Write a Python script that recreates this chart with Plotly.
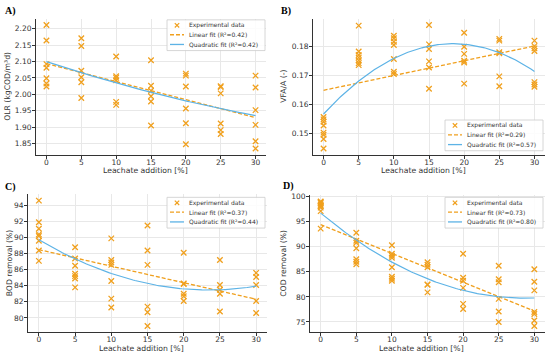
import numpy as np
import plotly.graph_objects as go

leachate_levels = [0, 5, 10, 15, 20, 25, 30]

# Panel A: OLR (kgCOD/m3d)
olr_values = {
    0: [2.211, 2.164, 2.092, 2.081, 2.049, 2.033, 2.024],
    5: [2.171, 2.147, 2.072, 2.052, 2.037, 1.989],
    10: [2.115, 2.055, 2.050, 2.043, 1.977, 1.968],
    15: [2.104, 2.026, 2.011, 1.994, 1.978, 1.905],
    20: [2.063, 2.057, 2.024, 1.957, 1.912, 1.848],
    25: [2.025, 2.022, 2.003, 1.911, 1.891, 1.879],
    30: [2.057, 2.021, 1.952, 1.907, 1.857, 1.835],
}
# Panel B: VFA/A (-)
vfa_values = {
    0: [0.1556, 0.1548, 0.1540, 0.1527, 0.1502, 0.1495, 0.1480, 0.1447],
    5: [0.1873, 0.1783, 0.1771, 0.1762, 0.1752, 0.1743, 0.1736],
    10: [0.1838, 0.1829, 0.1817, 0.1806, 0.1757, 0.1713, 0.1705],
    15: [0.1875, 0.1808, 0.1792, 0.1749, 0.1728, 0.1654],
    20: [0.1848, 0.1800, 0.1775, 0.1751, 0.1745, 0.1672],
    25: [0.1827, 0.1821, 0.1781, 0.1777, 0.1697, 0.1663],
    30: [0.1821, 0.1802, 0.1794, 0.1785, 0.1677, 0.1669, 0.1661],
}
# Panel C: BOD removal (%)
bod_values = {
    0: [94.6, 91.9, 91.1, 90.4, 90.2, 89.6, 88.4, 87.1],
    5: [88.8, 87.4, 86.5, 85.5, 85.2, 84.9, 83.8],
    10: [89.9, 87.2, 86.9, 86.6, 84.6, 82.4, 81.3],
    15: [91.5, 88.4, 86.6, 81.4, 80.7, 79.0],
    20: [88.1, 84.3, 84.2, 83.0, 82.7, 82.1],
    25: [87.2, 84.1, 83.5, 83.0, 80.8],
    30: [85.6, 85.1, 84.1, 82.1, 80.6],
}
# Panel D: COD removal (%)
cod_values = {
    0: [99.0, 98.9, 98.7, 98.4, 98.2, 98.1, 97.8, 97.1, 93.6],
    5: [92.8, 91.2, 90.8, 89.7, 87.5, 87.0, 86.5],
    10: [90.3, 88.6, 88.2, 87.8, 85.9, 84.0, 83.6, 83.2],
    15: [86.9, 86.4, 85.9, 82.5, 82.4, 80.9],
    20: [88.6, 83.8, 83.2, 81.8, 78.6, 77.6],
    25: [86.2, 83.5, 82.9, 79.6, 77.1, 75.0],
    30: [85.5, 83.0, 81.3, 77.0, 76.6, 75.3, 74.2],
}

panel_labels = ["A)", "B)", "C)", "D)"]
y_titles = ["OLR (kgCOD/m³d)", "VFA/A (-)", "BOD removal (%)", "COD removal (%)"]
x_title = "Leachate addition [%]"
legend_data = "Experimental data"
r2_linear = ["0.42", "0.29", "0.37", "0.73"]
r2_quad = ["0.42", "0.57", "0.44", "0.80"]
y_ticks = [
    [1.85, 1.90, 1.95, 2.00, 2.05, 2.10, 2.15, 2.20],
    [0.15, 0.16, 0.17, 0.18],
    [80, 82, 84, 86, 88, 90, 92, 94],
    [75, 80, 85, 90, 95, 100],
]
y_formats = [".2f", ".2f", "d", "d"]
datasets = [olr_values, vfa_values, bod_values, cod_values]

ORANGE = "#F0A01E"
BLUE = "#5DB3E6"
TXT = "#333333"
W, H = 550, 354

# layout (pixels)
boxes = [(36, 266, 16, 153), (313, 545, 16, 153), (28, 267, 193, 332), (310, 545, 194, 332)]
legend_boxes = [(167, 17), (445, 118), (167, 196), (445, 196)]  # left, top
LEG_W, LEG_H = 98, 31
label_pos = [(3, 8), (279, 8), (3, 186), (281, 185)]
ytitle_x = [8, 284, 9, 284]
xtitle_y = [168.5, 168.5, 348, 348]

fig = go.Figure()
tick_font = dict(family="DejaVu Sans", size=7.5, color=TXT)
title_font = dict(family="DejaVu Sans", size=7.7, color=TXT)
legend_font = dict(family="DejaVu Sans", size=6, color=TXT)


def px(x):
    return x / W


def py(y):
    return 1 - y / H


shapes = []
for i, data in enumerate(datasets):
    ax = "" if i == 0 else str(i + 1)
    xs, ys = [], []
    for lvl in leachate_levels:
        for v in data[lvl]:
            xs.append(lvl)
            ys.append(v)
    xs = np.array(xs, dtype=float)
    ys = np.array(ys, dtype=float)
    lin = np.polyfit(xs, ys, 1)
    quad = np.polyfit(xs, ys, 2)
    xf = np.linspace(0, 30, 121)

    fig.add_trace(go.Scatter(
        x=xs, y=ys, mode="markers", name=legend_data,
        marker=dict(symbol="x-thin", size=5.5, color=ORANGE, line=dict(width=1.3, color=ORANGE)),
        xaxis="x" + ax, yaxis="y" + ax, showlegend=False))
    fig.add_trace(go.Scatter(
        x=xf, y=np.polyval(lin, xf), mode="lines", name=f"Linear fit (R²={r2_linear[i]})",
        line=dict(color=ORANGE, width=1.3, dash="4px,2px"),
        xaxis="x" + ax, yaxis="y" + ax, showlegend=False))
    fig.add_trace(go.Scatter(
        x=xf, y=np.polyval(quad, xf), mode="lines", name=f"Quadratic fit (R²={r2_quad[i]})",
        line=dict(color=BLUE, width=1.2),
        xaxis="x" + ax, yaxis="y" + ax, showlegend=False))

    ymin, ymax = ys.min(), ys.max()
    pad = (ymax - ymin) * 0.05
    l, r, t, b = boxes[i]
    fig.update_layout(**{
        "xaxis" + ax: dict(
            domain=[px(l), px(r)], anchor="y" + ax, range=[-1.5, 31.5],
            tickvals=leachate_levels, ticks="outside", ticklen=3, tickcolor="#333",
            tickfont=tick_font, ticklabelstandoff=-3, showline=True, linecolor="#333",
            linewidth=1, showgrid=True, gridcolor="#E8E8E8", gridwidth=0.8, zeroline=False),
        "yaxis" + ax: dict(
            domain=[py(b), py(t)], anchor="x" + ax, range=[ymin - pad, ymax + pad],
            tickvals=y_ticks[i], tickformat=y_formats[i], ticks="outside", ticklen=3,
            tickcolor="#333", tickfont=tick_font, ticklabelstandoff=-1, showline=True,
            linecolor="#333", linewidth=1, showgrid=True, gridcolor="#E8E8E8",
            gridwidth=0.8, zeroline=False),
    })
    # axis titles
    fig.add_annotation(text=y_titles[i], textangle=-90, xref="paper", yref="paper",
                       x=px(ytitle_x[i]), y=py((t + b) / 2), showarrow=False,
                       font=title_font, xanchor="center", yanchor="middle")
    fig.add_annotation(text=x_title, xref="paper", yref="paper",
                       x=px((l + r) / 2 - 6), y=py(xtitle_y[i]), showarrow=False,
                       font=title_font, xanchor="center", yanchor="middle")
    # panel label
    lx, ly = label_pos[i]
    fig.add_annotation(text="<b>" + panel_labels[i] + "</b>", xref="paper", yref="paper",
                       x=px(lx), y=py(ly), xanchor="left", yanchor="middle", showarrow=False,
                       font=dict(family="Liberation Serif", size=10, color="#000"))

    # legend box
    L, T = legend_boxes[i]
    shapes.append(dict(type="rect", xref="paper", yref="paper",
                       x0=px(L), x1=px(L + LEG_W), y0=py(T + LEG_H), y1=py(T),
                       fillcolor="rgba(255,255,255,0.85)", line=dict(color="#CCCCCC", width=0.8)))
    rows = [T + 5.5, T + 15, T + 24.8]
    names = [legend_data, f"Linear fit (R²={r2_linear[i]})", f"Quadratic fit (R²={r2_quad[i]})"]
    cx, cy, d = L + 10, rows[0], 2.2
    shapes.append(dict(type="line", xref="paper", yref="paper", x0=px(cx - d), x1=px(cx + d),
                       y0=py(cy - d), y1=py(cy + d), line=dict(color=ORANGE, width=1.2)))
    shapes.append(dict(type="line", xref="paper", yref="paper", x0=px(cx - d), x1=px(cx + d),
                       y0=py(cy + d), y1=py(cy - d), line=dict(color=ORANGE, width=1.2)))
    shapes.append(dict(type="line", xref="paper", yref="paper", x0=px(L + 3), x1=px(L + 17),
                       y0=py(rows[1]), y1=py(rows[1]),
                       line=dict(color=ORANGE, width=1.3, dash="4px,2px")))
    shapes.append(dict(type="line", xref="paper", yref="paper", x0=px(L + 3), x1=px(L + 17),
                       y0=py(rows[2]), y1=py(rows[2]), line=dict(color=BLUE, width=1.3)))
    for rr, nm in zip(rows, names):
        fig.add_annotation(text=nm, xref="paper", yref="paper", x=px(L + 20), y=py(rr),
                           xanchor="left", yanchor="middle", showarrow=False, font=legend_font)

fig.update_layout(width=W, height=H, margin=dict(l=0, r=0, t=0, b=0),
                  paper_bgcolor="white", plot_bgcolor="white", showlegend=False,
                  shapes=shapes)
fig.write_html("out.html", config={"displayModeBar": False},
               post_script="document.body.style.margin='0';document.body.style.overflow='hidden';")
